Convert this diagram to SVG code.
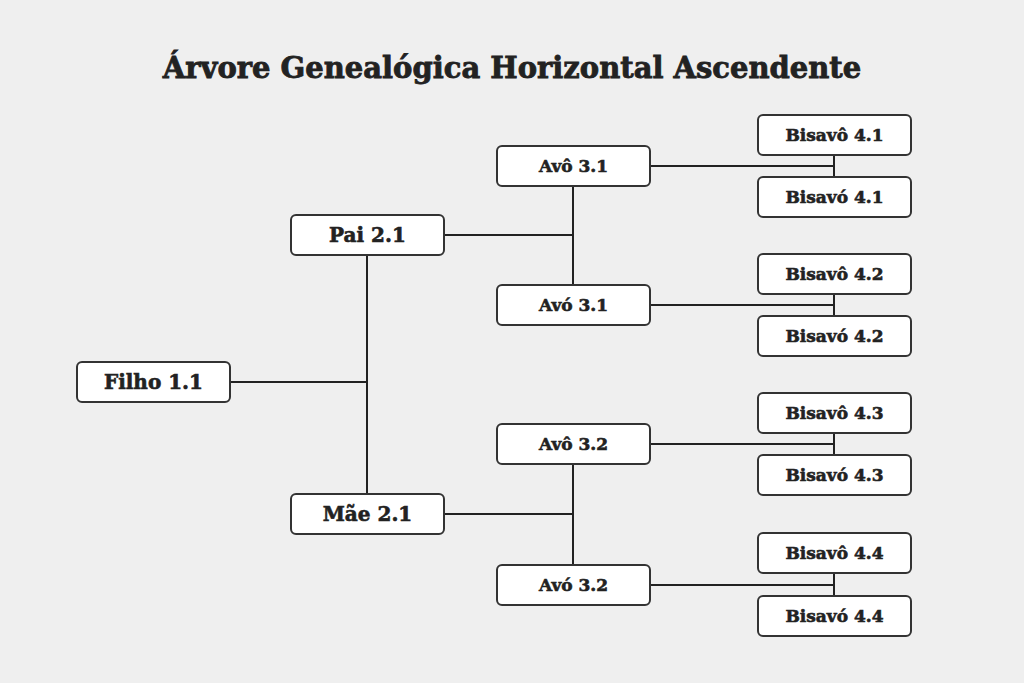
<svg xmlns="http://www.w3.org/2000/svg" width="1024" height="683" viewBox="0 0 1024 683">
<style>
.n rect{fill:#fff;stroke:#333;stroke-width:2}
.n text{font-family:"DejaVu Serif",serif;font-weight:bold;font-size:17px;fill:#222;stroke:#222;stroke-width:0.6;text-anchor:middle;dominant-baseline:central}
.n text.b{font-size:20px}
.c path{stroke:#222;stroke-width:2;fill:none}
</style>
<rect width="1024" height="683" fill="#efefef"/>
<text x="512" y="68" font-family="DejaVu Serif,serif" font-weight="bold" font-size="29" fill="#222" stroke="#222" stroke-width="0.8" text-anchor="middle" dominant-baseline="central">Árvore Genealógica Horizontal Ascendente</text>
<g class="c">
<path d="M230 382H367M367 255V494M444 235H573M444 514H573M573 186V285M573 464V565"/>
<path d="M650 166H834M834 155V177M650 305H834M834 294V316M650 444H834M834 433V455M650 585H834M834 573V596"/>
</g>
<g class="n" id="filho"><rect x="77" y="362" width="153" height="40" rx="5"/><text class="b" x="153.5" y="382">Filho 1.1</text></g>
<g class="n" id="pai"><rect x="291" y="215" width="153" height="40" rx="5"/><text class="b" x="367.5" y="235">Pai 2.1</text></g>
<g class="n" id="mae"><rect x="291" y="494" width="153" height="40" rx="5"/><text class="b" x="367.5" y="514">Mãe 2.1</text></g>
<g class="n" id="avo31"><rect x="497" y="146" width="153" height="40" rx="5"/><text x="573.5" y="166">Avô 3.1</text></g>
<g class="n" id="avoa31"><rect x="497" y="285" width="153" height="40" rx="5"/><text x="573.5" y="305">Avó 3.1</text></g>
<g class="n" id="avo32"><rect x="497" y="424" width="153" height="40" rx="5"/><text x="573.5" y="444">Avô 3.2</text></g>
<g class="n" id="avoa32"><rect x="497" y="565" width="153" height="40" rx="5"/><text x="573.5" y="585">Avó 3.2</text></g>
<g class="n" id="b41"><rect x="758" y="115" width="153" height="40" rx="5"/><text x="834.5" y="135">Bisavô 4.1</text></g>
<g class="n" id="ba41"><rect x="758" y="177" width="153" height="40" rx="5"/><text x="834.5" y="197">Bisavó 4.1</text></g>
<g class="n" id="b42"><rect x="758" y="254" width="153" height="40" rx="5"/><text x="834.5" y="274">Bisavô 4.2</text></g>
<g class="n" id="ba42"><rect x="758" y="316" width="153" height="40" rx="5"/><text x="834.5" y="336">Bisavó 4.2</text></g>
<g class="n" id="b43"><rect x="758" y="393" width="153" height="40" rx="5"/><text x="834.5" y="413">Bisavô 4.3</text></g>
<g class="n" id="ba43"><rect x="758" y="455" width="153" height="40" rx="5"/><text x="834.5" y="475">Bisavó 4.3</text></g>
<g class="n" id="b44"><rect x="758" y="533" width="153" height="40" rx="5"/><text x="834.5" y="553">Bisavô 4.4</text></g>
<g class="n" id="ba44"><rect x="758" y="596" width="153" height="40" rx="5"/><text x="834.5" y="616">Bisavó 4.4</text></g>
</svg>
